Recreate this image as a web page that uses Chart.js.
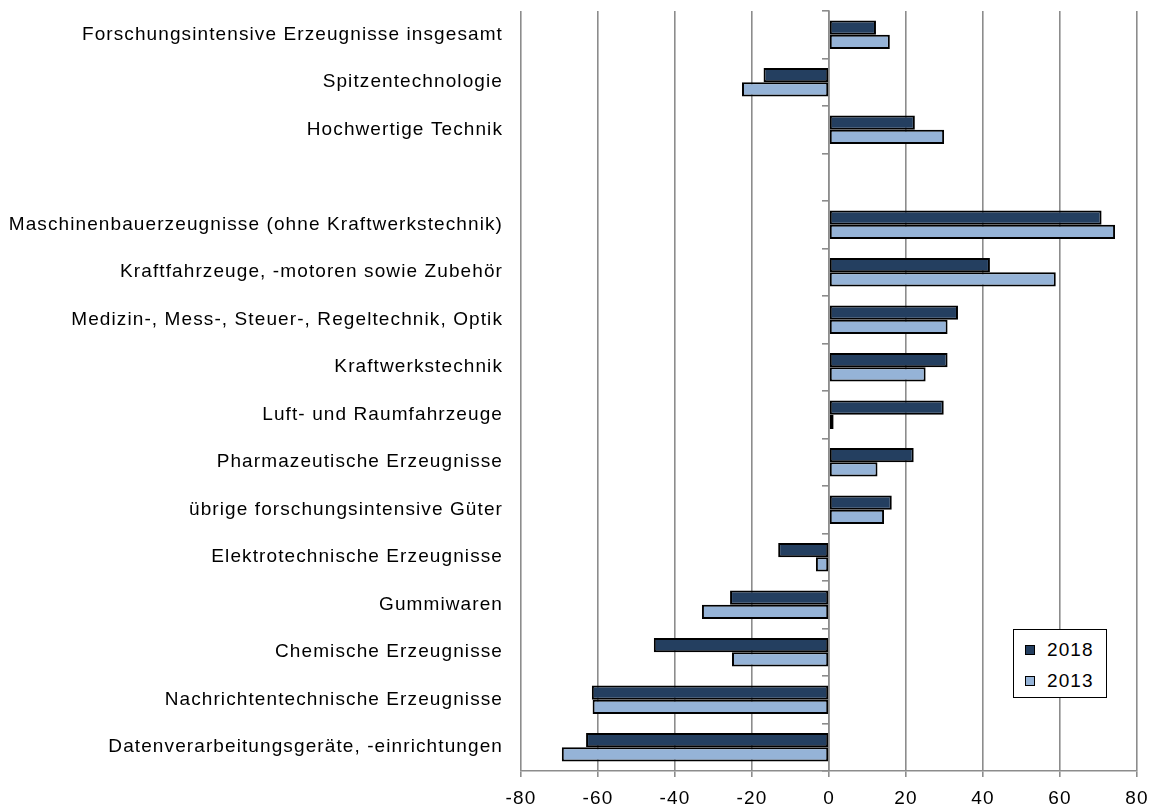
<!DOCTYPE html>
<html>
<head>
<meta charset="utf-8">
<script src="https://cdn.jsdelivr.net/npm/chart.js@4/dist/chart.umd.min.js"></script>
<style>
  html, body { margin: 0; padding: 0; background: #fff; }
  #wrap { position: relative; width: 1152px; height: 808px; }
  #legend { position: absolute; left: 1013px; top: 629px; width: 94px; height: 69px;
    border: 1.5px solid #000; background: #fff; font-family: "Liberation Sans", Arial, sans-serif;
    font-size: 19px; letter-spacing: 1.1px; color: #000; box-sizing: border-box; padding-top: 4px; }
  .li { display: flex; align-items: center; height: 30px; margin-top: 1px; }
  .sw { width: 8px; height: 8px; border: 1.2px solid #000; margin-left: 11px; margin-right: 12px; }
</style>
</head>
<body>
<div id="wrap">
  <canvas id="c" width="1152" height="808"></canvas>
  <div id="legend"></div>
</div>
<script>
const categories = [
  "Forschungsintensive Erzeugnisse insgesamt",
  "Spitzentechnologie",
  "Hochwertige Technik",
  "",
  "Maschinenbauerzeugnisse (ohne Kraftwerkstechnik)",
  "Kraftfahrzeuge, -motoren sowie Zubehör",
  "Medizin-, Mess-, Steuer-, Regeltechnik, Optik",
  "Kraftwerkstechnik",
  "Luft- und Raumfahrzeuge",
  "Pharmazeutische Erzeugnisse",
  "übrige forschungsintensive Güter",
  "Elektrotechnische Erzeugnisse",
  "Gummiwaren",
  "Chemische Erzeugnisse",
  "Nachrichtentechnische Erzeugnisse",
  "Datenverarbeitungsgeräte, -einrichtungen"
];
const values2018 = [12.2, -17, 22.3, null, 70.8, 41.8, 33.5, 30.8, 29.8, 22, 16.3, -13.2, -25.7, -45.5, -61.6, -63.1];
const values2013 = [15.8, -22.6, 29.9, null, 74.3, 58.9, 30.8, 25.1, 1.2, 12.6, 14.3, -3.4, -33, -25.2, -61.4, -69.4];
const seriesNames = ["2018", "2013"];
const xTicks = { min: -80, max: 80, step: 20 };

const colors = ["#243F60", "#95B3D7"];
const FONT = "'Liberation Sans', Arial, sans-serif";

const spacingPlugin = {
  id: 'spacing',
  beforeUpdate(chart) { chart.ctx.letterSpacing = '1.1px'; },
  beforeLayout(chart) { chart.ctx.letterSpacing = '1.1px'; },
  beforeDraw(chart) { chart.ctx.letterSpacing = '1.1px'; }
};

const noPad = (s) => { s.paddingTop = 0; s.paddingBottom = 0; };

const chart = new Chart(document.getElementById('c'), {
  type: 'bar',
  plugins: [spacingPlugin],
  data: {
    labels: categories,
    datasets: [
      { label: seriesNames[0], data: values2018, backgroundColor: colors[0], borderColor: '#000', borderWidth: 2, borderSkipped: false },
      { label: seriesNames[1], data: values2013, backgroundColor: colors[1], borderColor: '#000', borderWidth: 2, borderSkipped: false }
    ]
  },
  options: {
    indexAxis: 'y',
    responsive: false,
    animation: false,
    layout: { padding: { left: 0, right: 15, top: 11, bottom: 0 } },
    datasets: { bar: { categoryPercentage: 0.6, barPercentage: 1.0 } },
    plugins: { legend: { display: false }, tooltip: { enabled: false } },
    scales: {
      x: {
        type: 'linear', min: xTicks.min, max: xTicks.max,
        ticks: { stepSize: xTicks.step, color: '#000', font: { family: FONT, size: 19 }, padding: 10 },
        grid: { color: '#8c8c8c', lineWidth: 1.6, tickLength: 6, drawTicks: true },
        border: { display: true, color: '#8c8c8c', width: 1.6 },
        afterFit: (s) => { s.height = 37; s.paddingLeft = 0; s.paddingRight = 0; }
      },
      y: {
        type: 'category', position: 'left',
        ticks: { color: '#000', font: { family: FONT, size: 19 }, padding: 18, autoSkip: false },
        grid: { display: false, drawTicks: false },
        border: { display: false },
        afterFit: (s) => { s.width = 521; noPad(s); }
      },
      y2: {
        type: 'category', position: { x: 0 }, offset: true,
        ticks: { display: false },
        grid: { drawOnChartArea: false, drawTicks: true, tickLength: 6, offset: true, color: '#8c8c8c', lineWidth: 1.6 },
        border: { display: true, color: '#8c8c8c', width: 1.6 },
        afterFit: noPad
      }
    }
  }
});

const lg = document.getElementById('legend');
chart.data.datasets.forEach(ds => {
  const row = document.createElement('div'); row.className = 'li';
  const sw = document.createElement('span'); sw.className = 'sw'; sw.style.background = ds.backgroundColor;
  const t = document.createElement('span'); t.textContent = ds.label;
  row.appendChild(sw); row.appendChild(t); lg.appendChild(row);
});
</script>
</body>
</html>
